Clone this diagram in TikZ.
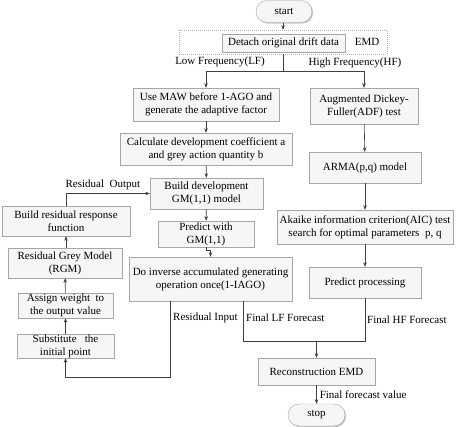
\documentclass[tikz,border=0pt]{standalone}
\usepackage{fontspec}
\setmainfont{Liberation Serif}
\usetikzlibrary{positioning, calc, shadows, arrows.meta}

\begin{document}
\begin{tikzpicture}[x=1pt, y=-1pt,
        font=\fontsize{11}{13}\selectfont,
        box/.style={draw=gray!70, fill=gray!7, align=center, inner sep=0pt,
            drop shadow={shadow xshift=1.2pt, shadow yshift=-1.2pt, fill=gray!45, opacity=1}},
        pill/.style={box, rounded corners=11pt},
        lbl/.style={inner sep=1pt},
        line/.style={draw=black!75, line width=0.6pt},
        arr/.style={line, -{Stealth[length=4.5pt, width=3.5pt]}}]

        \useasboundingbox (0,0) rectangle (474,427);

        % top
        \node[pill, minimum width=56, minimum height=22] (start) at (284,11.5) {start};
        \node[draw=gray!60, dash pattern=on 1pt off 1pt, minimum width=208, minimum height=24] (emd) at (283,42) {};
        \node[box, minimum width=123, minimum height=18] (detach) at (283.5,43) {Detach original drift data};
        \node[lbl] (emdlbl) at (367,42) {EMD};

        \node[lbl] (lf) at (220,62) {Low Frequency(LF)};
        \node[lbl] (hf) at (355,63) {High Frequency(HF)};

        % low frequency branch
        \node[box, minimum width=146, minimum height=33] (maw) at (206,104.5) {Use MAW before 1-AGO and\\generate the adaptive factor};
        \node[box, minimum width=172, minimum height=32] (calc) at (206,149) {Calculate development coefficient a\\and grey action quantity b};
        \node[box, minimum width=113, minimum height=31] (bdev) at (206.5,193.5) {Build development\\GM(1,1) model};
        \node[box, minimum width=96, minimum height=26] (pw) at (206,234) {Predict with\\GM(1,1)};
        \node[box, minimum width=163, minimum height=44] (inv) at (210.5,279) {Do inverse accumulated generating\\operation once(1-IAGO)};

        % residual branch
        \node[box, minimum width=128, minimum height=30] (bres) at (66,221) {Build residual response\\function};
        \node[box, minimum width=114, minimum height=30] (rgm) at (65,263) {Residual Grey Model\\(RGM)};
        \node[box, minimum width=95, minimum height=25] (assign) at (65.5,305.5) {Assign weight\ \ to\\the output value};
        \node[box, minimum width=97, minimum height=24] (sub) at (65.5,346) {Substitute\ \ \ the\\initial point};

        % high frequency branch
        \node[box, minimum width=108, minimum height=36] (adf) at (364,106) {Augmented Dickey-\\Fuller(ADF) test};
        \node[box, minimum width=112, minimum height=31] (arma) at (365,167.5) {ARMA(p,q) model};
        \node[box, minimum width=176, minimum height=34] (aic) at (365,227) {Akaike information criterion(AIC) test\\search for optimal parameters\ \ p, q};
        \node[box, minimum width=112, minimum height=31] (pp) at (365,282.5) {Predict processing};

        % bottom
        \node[box, minimum width=117, minimum height=27] (rec) at (316.5,371.5) {Reconstruction EMD};
        \node[pill, minimum width=57, minimum height=22] (stop) at (316.5,415) {stop};

        % connectors
        \coordinate (split) at (283,71);
        \draw[arr] (start.south -| emd.north) -- (emd.north);
        \draw[line] (emd.south) -- (split);
        \draw[arr] (split) -| (maw.north);
        \draw[arr] (split) -| (adf.north);

        \draw[arr] (maw) -- (calc);
        \draw[arr] (calc) -- (bdev);
        \draw[arr] (bdev) -- (pw);
        \draw[arr] (pw.south) -- ++(0,3.5) -| (inv.north);

        \draw[arr] (adf) -- (arma);
        \draw[arr] (arma.south -| aic.north) -- (aic.north);
        \draw[arr] (aic.south -| pp.north) -- (pp.north);

        \draw[arr] (sub) -- (assign);
        \draw[arr] (assign) -- (rgm);
        \draw[arr] (rgm.north -| bres.south) -- (bres.south);
        \draw[arr] (bres.north) |- (bdev.west) node[lbl, above, pos=.72, yshift=2pt] {Residual\ \ Output};

        \coordinate (ri) at (170,377);
        \draw[arr] (inv.south -| ri) -- (ri) -| (sub.south);
        \node[lbl, anchor=west] (rilbl) at (172,318) {Residual Input};

        \coordinate (lfend) at (243,341);
        \coordinate (merge) at (316.5,341);
        \draw[line] (inv.south -| lfend) -- (lfend) -| (pp.south);
        \draw[arr] (merge) -- (rec.north);
        \node[lbl, anchor=west] (lflbl) at (245,318) {Final LF Forecast};
        \node[lbl, anchor=west] (hflbl) at (366,320) {Final HF Forecast};

        \draw[arr] (rec) -- (stop) node[lbl, anchor=west, midway, xshift=2pt] {Final forecast value};

    \end{tikzpicture}
\end{document}
